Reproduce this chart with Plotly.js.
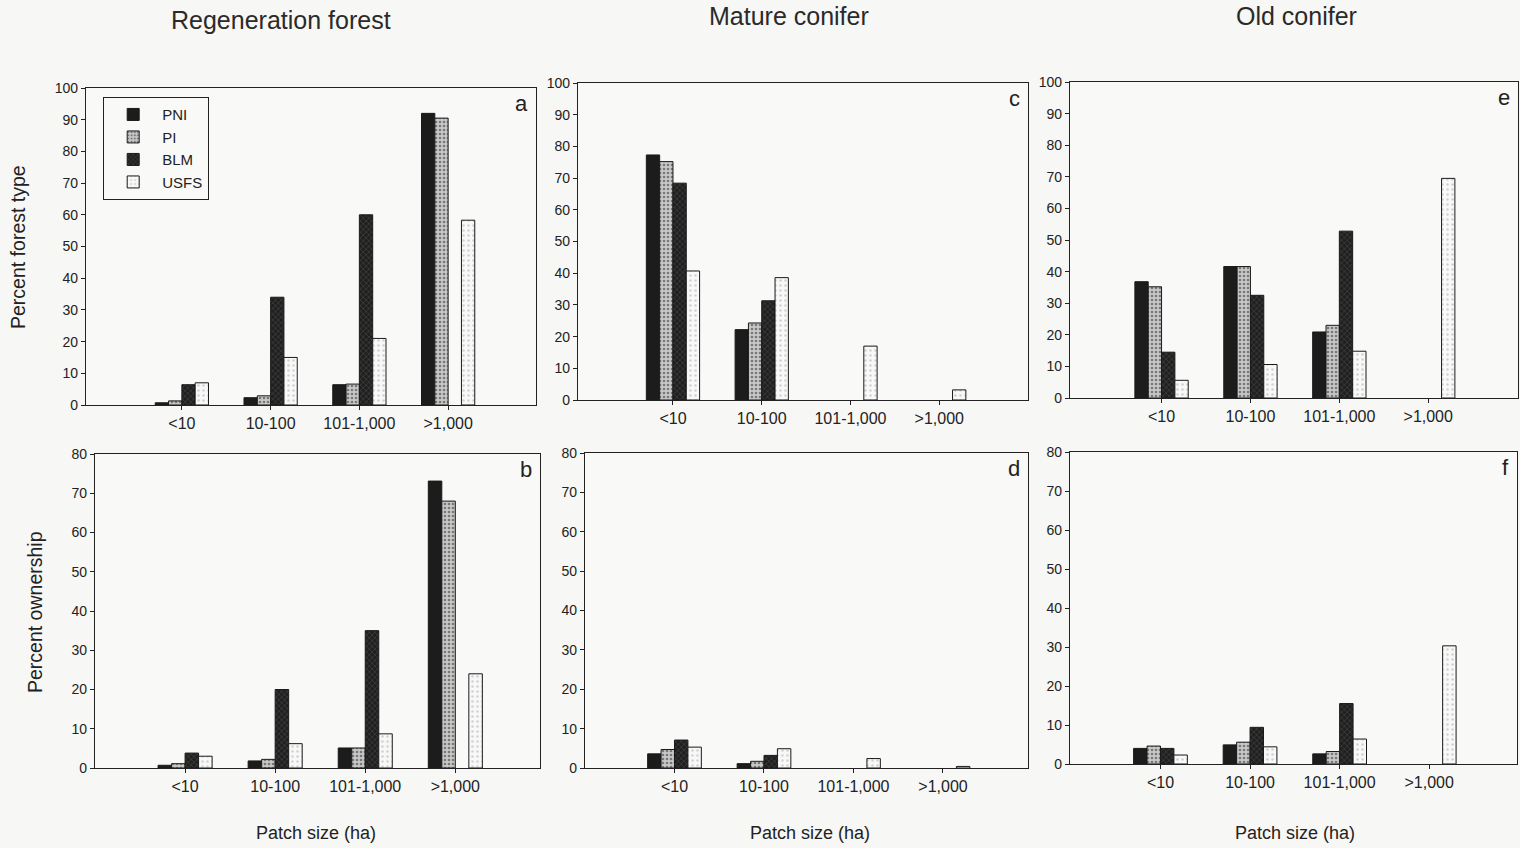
<!DOCTYPE html>
<html>
<head>
<meta charset="utf-8">
<script src="https://cdn.plot.ly/plotly-3.0.1.min.js"></script>
<style>
html,body{margin:0;padding:0;background:#f7f7f5;}
#chart{width:1520px;height:848px;}
</style>
</head>
<body>
<div id="chart"></div>
<script>
// ---- data ---- (null = no bar drawn)
const categories = ["<10", "10-100", "101-1,000", ">1,000"];
const seriesNames = ["PNI", "PI", "BLM", "USFS"];

// Panel a: Regeneration forest, percent forest type
const regenForest_PNI  = [0.7, 2.3, 6.4, 92];
const regenForest_PI   = [1.3, 2.9, 6.6, 90.5];
const regenForest_BLM  = [6.4, 34, 60, null];
const regenForest_USFS = [7.0, 15, 21, 58.3];

// Panel b: Regeneration forest, percent ownership
const regenOwn_PNI  = [0.7, 1.8, 5.1, 73.1];
const regenOwn_PI   = [1.1, 2.2, 5.1, 68];
const regenOwn_BLM  = [3.8, 20, 35, null];
const regenOwn_USFS = [3.0, 6.2, 8.7, 24];

// Panel c: Mature conifer, percent forest type
const matureForest_PNI  = [77.3, 22.2, null, null];
const matureForest_PI   = [75.2, 24.3, null, null];
const matureForest_BLM  = [68.4, 31.3, null, null];
const matureForest_USFS = [40.7, 38.6, 17, 3.2];

// Panel d: Mature conifer, percent ownership
const matureOwn_PNI  = [3.6, 1.1, null, null];
const matureOwn_PI   = [4.7, 1.7, null, null];
const matureOwn_BLM  = [7.1, 3.2, null, null];
const matureOwn_USFS = [5.3, 4.9, 2.4, 0.4];

// Panel e: Old conifer, percent forest type
const oldForest_PNI  = [36.8, 41.6, 20.9, null];
const oldForest_PI   = [35.2, 41.6, 23.0, null];
const oldForest_BLM  = [14.5, 32.5, 52.8, null];
const oldForest_USFS = [5.6, 10.6, 14.8, 69.5];

// Panel f: Old conifer, percent ownership
const oldOwn_PNI  = [4.0, 4.9, 2.6, null];
const oldOwn_PI   = [4.6, 5.6, 3.2, null];
const oldOwn_BLM  = [4.0, 9.4, 15.5, null];
const oldOwn_USFS = [2.3, 4.4, 6.4, 30.3];

const yTicksTop = [0,10,20,30,40,50,60,70,80,90,100];
const yTicksBottom = [0,10,20,30,40,50,60,70,80];

const columnTitles = ["Regeneration forest", "Mature conifer", "Old conifer"];
const panelLetters = ["a", "b", "c", "d", "e", "f"];
const yTitleTop = "Percent forest type";
const yTitleBottom = "Percent ownership";
const xTitle = "Patch size (ha)";

// ---- styles ----
const W = 1520, H = 848;
const FONT = "Liberation Sans, Arial, sans-serif";
const styles = {
  PNI:  {color: "#1c1c1c", pattern: {shape: ""}},
  PI:   {color: "#bdbdbd", pattern: {shape: ".", bgcolor: "#c8c8c8", fgcolor: "#787878", size: 4, solidity: 0.35}},
  BLM:  {color: "#242424", pattern: {shape: "x", bgcolor: "#202020", fgcolor: "#4a4a4a", size: 4, solidity: 0.25}},
  USFS: {color: "#f6f6f6", pattern: {shape: ".", bgcolor: "#f8f8f8", fgcolor: "#d2d2d2", size: 5, solidity: 0.2}}
};

// panel boxes in pixels: [left, top, right, bottom], x range
const panels = [
  {box:[86, 88, 536, 405],  xr:[-1.08, 3.99], yr:[0,100], ticks:yTicksTop,
   data:[regenForest_PNI, regenForest_PI, regenForest_BLM, regenForest_USFS]},
  {box:[95, 454, 540, 768], xr:[-1.0, 3.94],  yr:[0,80],  ticks:yTicksBottom,
   data:[regenOwn_PNI, regenOwn_PI, regenOwn_BLM, regenOwn_USFS]},
  {box:[578, 83, 1028, 400], xr:[-1.07, 4.0], yr:[0,100], ticks:yTicksTop,
   data:[matureForest_PNI, matureForest_PI, matureForest_BLM, matureForest_USFS]},
  {box:[585, 453, 1028, 768], xr:[-1.0, 3.95], yr:[0,80], ticks:yTicksBottom,
   data:[matureOwn_PNI, matureOwn_PI, matureOwn_BLM, matureOwn_USFS]},
  {box:[1070, 82, 1518, 398], xr:[-1.03, 4.01], yr:[0,100], ticks:yTicksTop,
   data:[oldForest_PNI, oldForest_PI, oldForest_BLM, oldForest_USFS]},
  {box:[1070, 452, 1517, 764], xr:[-1.01, 3.98], yr:[0,80], ticks:yTicksBottom,
   data:[oldOwn_PNI, oldOwn_PI, oldOwn_BLM, oldOwn_USFS]}
];

const traces = [];
const layout = {
  width: W, height: H,
  margin: {l:0, r:0, t:0, b:0},
  paper_bgcolor: "#f7f7f5",
  plot_bgcolor: "#f9f9f7",
  barmode: "group",
  bargap: 0.4,
  bargroupgap: 0,
  font: {family: FONT, color: "#222"},
  showlegend: true,
  legend: {
    x: 103/W, y: 1 - 97/H, xanchor: "left", yanchor: "top",
    bgcolor: "rgba(0,0,0,0)", bordercolor: "#222", borderwidth: 1.2,
    font: {family: FONT, size: 15, color: "#222"},
    itemwidth: 48, tracegroupgap: 0
  },
  annotations: [],
  shapes: []
};

panels.forEach((p, i) => {
  const n = i + 1;
  const xa = n === 1 ? "xaxis" : "xaxis" + n;
  const ya = n === 1 ? "yaxis" : "yaxis" + n;
  const xref = n === 1 ? "x" : "x" + n;
  const yref = n === 1 ? "y" : "y" + n;
  const [l, t, r, b] = p.box;
  layout[xa] = {
    domain: [l / W, r / W],
    anchor: yref,
    type: "category",
    categoryorder: "array", categoryarray: categories,
    range: p.xr,
    showline: true, mirror: true, linecolor: "#222", linewidth: 1.2,
    ticks: "outside", ticklen: 4, tickcolor: "#222",
    tickfont: {family: FONT, size: 16, color: "#222"},
    showgrid: false, zeroline: false, fixedrange: true
  };
  layout[ya] = {
    domain: [1 - b / H, 1 - t / H],
    anchor: xref,
    range: p.yr,
    tickvals: p.ticks,
    showline: true, mirror: true, linecolor: "#222", linewidth: 1.2,
    ticks: "outside", ticklen: 4, tickcolor: "#222",
    tickfont: {family: FONT, size: 14, color: "#222"},
    showgrid: false, zeroline: false, fixedrange: true
  };
  seriesNames.forEach((s, k) => {
    const st = styles[s];
    const marker = {color: st.color, line: {color: "#1a1a1a", width: 1}};
    if (st.pattern.shape) marker.pattern = st.pattern;
    traces.push({
      type: "bar",
      name: s,
      legendgroup: s,
      showlegend: i === 0,
      x: categories,
      y: p.data[k],
      xaxis: xref, yaxis: yref,
      marker: marker,
      hoverinfo: "x+y+name"
    });
  });
  layout.annotations.push({
    text: panelLetters[i], xref: "paper", yref: "paper",
    x: (r - 6) / W, y: 1 - (t + 1) / H, xanchor: "right", yanchor: "top",
    showarrow: false, font: {family: FONT, size: 22, color: "#222"}
  });
});

// column titles
const colCenters = [281, 789, 1296];
const colTitleY = [20, 16, 16];
columnTitles.forEach((tx, i) => {
  layout.annotations.push({
    text: tx, xref: "paper", yref: "paper",
    x: colCenters[i] / W, y: 1 - colTitleY[i] / H, xanchor: "center", yanchor: "middle",
    showarrow: false, font: {family: FONT, size: 25, color: "#2a2a2a"}
  });
});
// y titles
layout.annotations.push({
  text: yTitleTop, xref: "paper", yref: "paper", x: 18 / W, y: 1 - 247 / H,
  xanchor: "center", yanchor: "middle", textangle: -90, showarrow: false,
  font: {family: FONT, size: 19.5, color: "#222"}
});
layout.annotations.push({
  text: yTitleBottom, xref: "paper", yref: "paper", x: 35 / W, y: 1 - 612 / H,
  xanchor: "center", yanchor: "middle", textangle: -90, showarrow: false,
  font: {family: FONT, size: 19.5, color: "#222"}
});
// x titles
const xTitleCenters = [316, 810, 1295];
xTitleCenters.forEach(cx => {
  layout.annotations.push({
    text: xTitle, xref: "paper", yref: "paper", x: cx / W, y: 1 - 833 / H,
    xanchor: "center", yanchor: "middle", showarrow: false,
    font: {family: FONT, size: 18, color: "#222"}
  });
});

Plotly.newPlot("chart", traces, layout, {staticPlot: true, displayModeBar: false});
</script>
</body>
</html>
